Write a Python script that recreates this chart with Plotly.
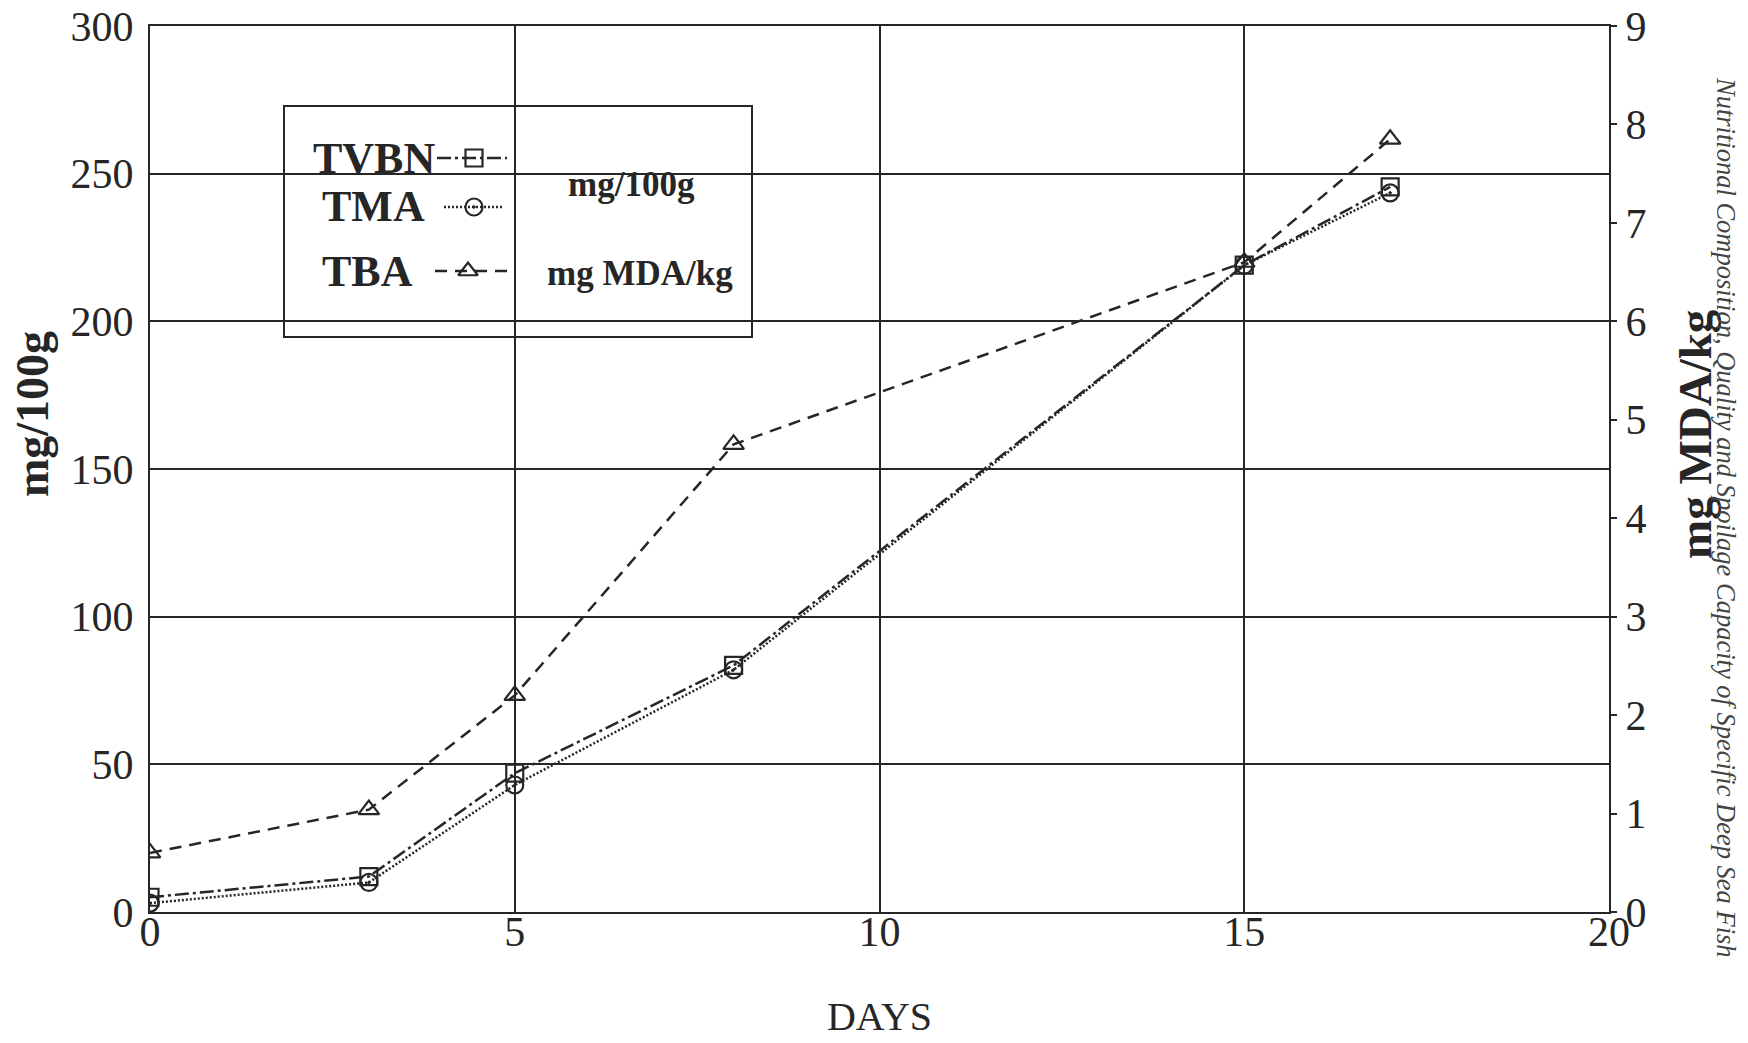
import plotly.graph_objects as go

# ---------------- data ----------------
days = [0, 3, 5, 8, 15, 17]
tvbn = [5, 12, 47, 83.5, 219, 245.5]      # mg/100g
tma = [3, 10, 43, 82, 219, 243.5]         # mg/100g
tba = [0.6, 1.04, 2.2, 4.75, 6.6, 7.85]   # mg MDA/kg

x_ticks = [0, 5, 10, 15, 20]
y_left_ticks = [0, 50, 100, 150, 200, 250, 300]
y_right_ticks = [0, 1, 2, 3, 4, 5, 6, 7, 8, 9]

series_names = ["TVBN", "TMA", "TBA"]
unit_left = "mg/100g"
unit_right = "mg MDA/kg"
caption = "Nutritional Composition, Quality and Spoilage Capacity of Specific Deep Sea Fish"

# ---------------- layout geometry (page pixels) ----------------
W, H = 1748, 1043
L, R, T, B = 150, 1609, 26, 912
XMAX, YMAX = 20, 300

SERIF = "Liberation Serif, Times New Roman, serif"
INK = "#262626"


def dx(px):  # page pixel -> data x
    return (px - L) / (R - L) * XMAX


def dy(py):  # page pixel -> data y (left axis)
    return (B - py) / (B - T) * YMAX


def px_x(px):
    return (px - L) / (R - L)


def px_y(py):
    return (B - py) / (B - T)


fig = go.Figure()

fig.add_trace(go.Scatter(
    x=days, y=tvbn, name="TVBN", mode="lines+markers",
    line=dict(color=INK, width=2.5, dash="14px,4px,3px,4px"),
    marker=dict(symbol="square-open", size=17, color=INK, line=dict(width=2.2)),
    showlegend=False))
fig.add_trace(go.Scatter(
    x=days, y=tma, name="TMA", mode="lines+markers",
    line=dict(color=INK, width=2.5, dash="2px,2px"),
    marker=dict(symbol="circle-open-dot", size=17, color=INK, line=dict(width=2.2)),
    showlegend=False))
fig.add_trace(go.Scatter(
    x=days, y=tba, name="TBA", mode="lines+markers", yaxis="y2",
    line=dict(color=INK, width=2.5, dash="12px,8px"),
    marker=dict(symbol="triangle-up-open", size=18, color=INK, line=dict(width=2.2)),
    showlegend=False))

# ---------------- custom legend (text before sample, like the original) ----------------
fig.add_shape(type="rect", xref="paper", yref="paper",
              x0=px_x(284), x1=px_x(752), y0=px_y(337), y1=px_y(106),
              fillcolor="white", line=dict(color=INK, width=2), layer="between")

legend_rows = [
    # name, sample x0, x1, marker x, y, symbol, dash, text right edge
    ("TVBN", 437, 507, 474, 158, "square-open", "14px,4px,3px,4px", 437),
    ("TMA", 444, 504, 474, 207, "circle-open-dot", "2px,2px", 427),
    ("TBA", 435, 511, 468, 271, "triangle-up-open", "12px,8px", 415),
]
for name, x0, x1, xm, yy, sym, dash, xr in legend_rows:
    fig.add_trace(go.Scatter(
        x=[dx(x0), dx(x1)], y=[dy(yy), dy(yy)], mode="lines",
        line=dict(color=INK, width=2.5, dash=dash),
        showlegend=False, hoverinfo="skip"))
    fig.add_trace(go.Scatter(
        x=[dx(xm)], y=[dy(yy)], mode="markers",
        marker=dict(symbol=sym, size=17, color=INK, line=dict(width=2.2)),
        showlegend=False, hoverinfo="skip"))
    fig.add_annotation(text=f"<b>{name}</b>", xref="paper", yref="paper",
                       x=px_x(xr), y=px_y(yy), xanchor="right", yanchor="middle",
                       showarrow=False, font=dict(family=SERIF, size=44, color=INK))

fig.add_annotation(text=f"<b>{unit_left}</b>", xref="paper", yref="paper",
                   x=px_x(631), y=px_y(184), xanchor="center", yanchor="middle",
                   showarrow=False, font=dict(family=SERIF, size=35, color=INK))
fig.add_annotation(text=f"<b>{unit_right}</b>", xref="paper", yref="paper",
                   x=px_x(640), y=px_y(273), xanchor="center", yanchor="middle",
                   showarrow=False, font=dict(family=SERIF, size=35, color=INK))

# y-axis titles (placed where the original shows them)
fig.add_annotation(text=f"<b>{unit_left}</b>", xref="paper", yref="paper",
                   x=px_x(32), y=px_y(414), xanchor="center", yanchor="middle",
                   textangle=-90, showarrow=False,
                   font=dict(family=SERIF, size=46, color=INK))
fig.add_annotation(text=f"<b>{unit_right}</b>", xref="paper", yref="paper",
                   x=px_x(1695), y=px_y(434), xanchor="center", yanchor="middle",
                   textangle=-90, showarrow=False,
                   font=dict(family=SERIF, size=47, color=INK))

# side caption of the scanned page
fig.add_annotation(text=f"<i>{caption}</i>", xref="paper", yref="paper",
                   x=px_x(1726), y=px_y(517), xanchor="center", yanchor="middle",
                   textangle=90, showarrow=False,
                   font=dict(family=SERIF, size=26.5, color="#444"))

axis_common = dict(showline=True, linecolor=INK, linewidth=2,
                   tickfont=dict(family=SERIF, size=42, color=INK),
                   zeroline=False, automargin=False, ticklabeloverflow="allow")

fig.update_layout(
    width=W, height=H,
    margin=dict(l=L, r=W - R, t=T, b=H - B, autoexpand=False),
    paper_bgcolor="white", plot_bgcolor="white",
    xaxis=dict(range=[0, XMAX], tickvals=x_ticks, ticktext=[str(v) for v in x_ticks],
               showgrid=True, gridcolor=INK, gridwidth=2, mirror=True,
               ticks="", ticklen=0, ticklabelstandoff=-18,
               title=dict(text="DAYS", font=dict(family=SERIF, size=40, color=INK), standoff=48),
               **axis_common),
    yaxis=dict(range=[0, YMAX], tickvals=y_left_ticks, ticktext=[str(v) for v in y_left_ticks],
               showgrid=True, gridcolor=INK, gridwidth=2, mirror=True,
               ticks="", ticklen=0, ticklabelstandoff=6,
               **axis_common),
    yaxis2=dict(range=[0, 9], tickvals=y_right_ticks, ticktext=[str(v) for v in y_right_ticks],
                overlaying="y", side="right", showgrid=False,
                ticks="outside", ticklen=6, tickwidth=2, tickcolor=INK,
                ticklabelstandoff=0,
                **axis_common),
    yaxis3=dict(range=[0, 9], tickvals=y_right_ticks, overlaying="y", side="right",
                showgrid=False, showticklabels=False, showline=False, zeroline=False,
                ticks="inside", ticklen=6, tickwidth=2, tickcolor=INK, automargin=False),
    showlegend=False,
)

fig.write_html("out.html", config={"displayModeBar": False},
               post_script="document.body.style.margin='0';")
